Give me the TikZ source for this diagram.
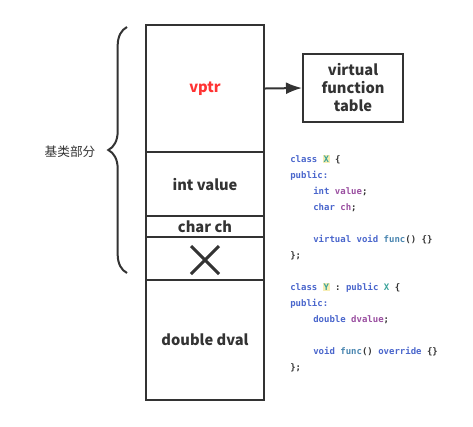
\documentclass[tikz,border=0pt]{standalone}
\usepackage{fontspec}
\setmainfont{Noto Sans CJK SC}
\setmonofont{DejaVu Sans Mono}
\usepackage{xcolor}
\usetikzlibrary{decorations.pathreplacing,arrows.meta}

\definecolor{linec}{HTML}{333333}
\definecolor{ptrred}{HTML}{FF3333}
\definecolor{kwdc}{HTML}{4A66CC}
\definecolor{fldc}{HTML}{9A4FA0}
\definecolor{clsc}{HTML}{3AA39A}
\definecolor{hlc}{HTML}{F7EEB4}
\definecolor{fnc}{HTML}{4A86B0}
\newcommand{\kwd}[1]{\textcolor{kwdc}{#1}}
\newcommand{\fld}[1]{\textcolor{fldc}{#1}}
\newcommand{\fnm}[1]{\textcolor{fnc}{#1}}
\newcommand{\clsn}[1]{{\setlength{\fboxsep}{0.6pt}\colorbox{hlc}{\textcolor{clsc}{#1}}}}

\tikzset{
  cell/.style={draw=linec,line width=1.5pt,minimum width=88.5pt,inner sep=0pt,
    font=\fontsize{11}{13.5}\selectfont\bfseries,text=linec},
  codeline/.style={anchor=west,inner sep=0pt,text height=5pt,text depth=1.5pt,
    font=\ttfamily\bfseries\fontsize{6.75}{8}\selectfont,text=linec}
}

\begin{document}
\begin{tikzpicture}[x=0.75pt,y=-0.75pt]
\useasboundingbox (0,0) rectangle (473,426);
% object layout of Y
\node[cell,minimum height=95.25pt] (vptr) at (205,88.5) {\textcolor{ptrred}{vptr}};
\node[cell,minimum height=48pt] (ival) at (205,184) {int value};
\node[cell,minimum height=15.75pt] (chr) at (205,226.5) {char ch};
\node[cell,minimum height=32.25pt] (pad) at (205,258.5) {};
\node[cell,minimum height=90pt] (dval) at (205,340) {double dval};
\draw[linec,line width=2.25pt] (191,246) -- (219,274);
\draw[linec,line width=2.25pt] (219,246) -- (191,274);

% virtual table
\node[draw=linec,line width=1.5pt,minimum width=75pt,minimum height=51pt,align=center,
  font=\fontsize{11}{13.5}\selectfont\bfseries,text=linec] (vft) at (353,88) {virtual\\function\\table};
\draw[linec,line width=1.5pt,-{Latex[length=12pt,width=9pt]}] (vptr.east) -- (vft.west);

% base part
\draw[linec,line width=1.5pt,decorate,decoration={brace,amplitude=14pt}] (127,273) -- (127,27);
\node[font=\fontsize{9.5}{11}\selectfont,text=linec] (base) at (70,152) {基类部分};

% source code
\node[codeline] (c1) at (290,160) {\kwd{class} \clsn{X} \{};
\node[codeline] (c2) at (290,176) {\kwd{public:}};
\node[codeline] (c3) at (313,192) {\kwd{int} \fld{value};};
\node[codeline] (c4) at (313,208) {\kwd{char} \fld{ch};};
\node[codeline] (c5) at (313,240) {\kwd{virtual} \kwd{void} \fnm{func}() \{\}};
\node[codeline] (c6) at (290,256) {\};};
\node[codeline] (c7) at (290,288) {\kwd{class} \clsn{Y} : \kwd{public} \textcolor{clsc}{X} \{};
\node[codeline] (c8) at (290,304) {\kwd{public:}};
\node[codeline] (c9) at (313,320) {\kwd{double} \fld{dvalue};};
\node[codeline] (c10) at (313,352) {\kwd{void} \fnm{func}() \kwd{override} \{\}};
\node[codeline] (c11) at (290,368) {\};};
\end{tikzpicture}
\end{document}
